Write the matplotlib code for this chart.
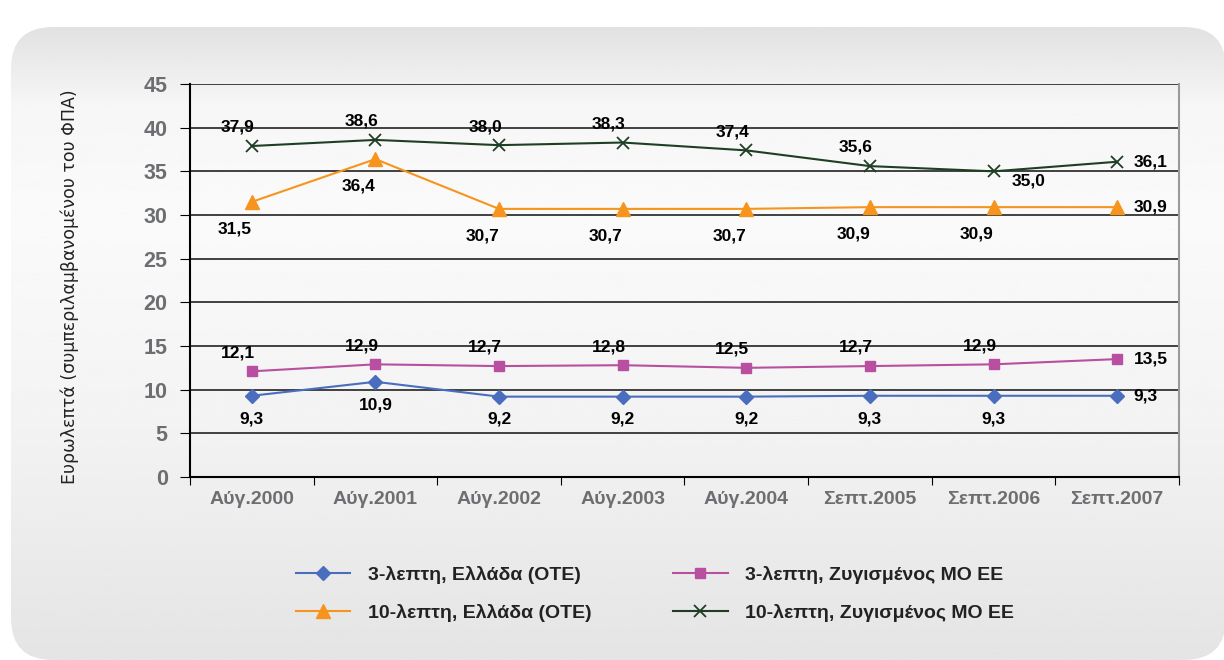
import numpy as np
import matplotlib.pyplot as plt
from matplotlib.patches import FancyBboxPatch

plt.rcParams['font.family'] = ['Liberation Sans', 'DejaVu Sans']

# Δεδομένα
periods = ['Αύγ.2000', 'Αύγ.2001', 'Αύγ.2002', 'Αύγ.2003', 'Αύγ.2004',
           'Σεπτ.2005', 'Σεπτ.2006', 'Σεπτ.2007']
gr_3min = [9.3, 10.9, 9.2, 9.2, 9.2, 9.3, 9.3, 9.3]
eu_3min = [12.1, 12.9, 12.7, 12.8, 12.5, 12.7, 12.9, 13.5]
gr_10min = [31.5, 36.4, 30.7, 30.7, 30.7, 30.9, 30.9, 30.9]
eu_10min = [37.9, 38.6, 38.0, 38.3, 37.4, 35.6, 35.0, 36.1]

fig = plt.figure(figsize=(12.24, 6.6), dpi=100)
fig.patch.set_facecolor('white')

# γκρι πλαίσιο φόντου με διαβάθμιση
bg = fig.add_axes([0, 0, 1, 1], zorder=-10)
bg.set_xlim(0, 1224)
bg.set_ylim(660, 0)
bg.axis('off')
panel = FancyBboxPatch((11, 27), 1215, 633, boxstyle='round,pad=0,rounding_size=42',
                       facecolor='none', edgecolor='none')
bg.add_patch(panel)
grad = np.interp(np.linspace(0, 1, 256), [0, 0.12, 0.3, 0.6, 1], [0.885, 0.965, 0.98, 0.955, 0.895])
img = bg.imshow(grad[:, None], cmap='gray', vmin=0, vmax=1, aspect='auto',
                extent=[11, 1226, 660, 27])
img.set_clip_path(panel)

ax = fig.add_axes([0.1552, 0.2773, 0.808, 0.5954])
ax.patch.set_alpha(0)
x = np.arange(len(periods))

ax.plot(x, gr_3min, color='#4a6ebd', marker='D', ms=7, lw=1.5, label='3-λεπτη, Ελλάδα (ΟΤΕ)')
ax.plot(x, gr_10min, color='#f7941d', marker='^', ms=10, lw=1.5, label='10-λεπτη, Ελλάδα (ΟΤΕ)')
ax.plot(x, eu_3min, color='#b84fa0', marker='s', ms=7, lw=1.5, label='3-λεπτη, Ζυγισμένος ΜΟ ΕΕ')
ax.plot(x, eu_10min, color='#1f3f25', marker='x', ms=9, mew=1.3, lw=1.5, label='10-λεπτη, Ζυγισμένος ΜΟ ΕΕ')

def fmt(v):
    return f'{v:.1f}'.replace('.', ',')

lab = dict(fontsize=12.5, fontweight='bold', color='black')
last = len(periods) - 1
for i in range(len(periods)):
    if i < last:
        ax.annotate(fmt(gr_3min[i]), (x[i], gr_3min[i]), xytext=(0, -11), textcoords='offset points',
                    ha='center', va='top', **lab)
        ax.annotate(fmt(eu_3min[i]), (x[i], eu_3min[i]), xytext=(-10, 8), textcoords='offset points',
                    ha='center', va='bottom', **lab)
        ax.annotate(fmt(gr_10min[i]), (x[i], gr_10min[i]), xytext=(-12, -14), textcoords='offset points',
                    ha='center', va='top', **lab)
        if i == 6:
            ax.annotate(fmt(eu_10min[i]), (x[i], eu_10min[i]), xytext=(25, -7), textcoords='offset points',
                        ha='center', va='center', **lab)
        else:
            ax.annotate(fmt(eu_10min[i]), (x[i], eu_10min[i]), xytext=(-10, 8), textcoords='offset points',
                        ha='center', va='bottom', **lab)
    else:
        for s in (gr_3min, eu_3min, gr_10min, eu_10min):
            ax.annotate(fmt(s[i]), (x[i], s[i]), xytext=(12, 0), textcoords='offset points',
                        ha='left', va='center', **lab)

ax.set_xlim(-0.5, len(periods) - 0.5)
ax.set_ylim(0, 45)
ax.set_yticks(range(0, 46, 5))
ax.set_xticks(np.arange(len(periods) + 1) - 0.5, minor=False)
ax.set_xticklabels([])
ax.set_xticks(x, minor=True)
ax.set_xticklabels(periods, minor=True)
ax.tick_params(axis='x', which='minor', length=0, pad=10, labelsize=14, labelcolor='#6d6e71')
ax.tick_params(axis='x', which='major', length=6, color='black', direction='out')
ax.tick_params(axis='y', length=7, pad=9, labelsize=15.5, labelcolor='#6d6e71', color='black')
for t in ax.get_yticklabels() + ax.get_xticklabels(minor=True):
    t.set_fontweight('bold')

ax.grid(axis='y', color='#222222', lw=1.2)
ax.set_axisbelow(True)
ax.spines['top'].set_visible(False)
ax.spines['right'].set_color('#9a9a9a')
ax.spines['right'].set_linewidth(1.5)
ax.spines['left'].set_color('black')
ax.spines['left'].set_linewidth(1.5)
ax.spines['bottom'].set_linewidth(1.5)

fig.text(70 / 1224, 1 - 287 / 660, 'Ευρωλεπτά (συμπεριλαμβανομένου του ΦΠΑ)', rotation=90,
         ha='center', va='center', fontsize=12.5, color='#222222', family='DejaVu Sans')

leg = fig.legend(loc='center', bbox_to_anchor=(655 / 1224, 1 - 594 / 660), ncol=2, frameon=False,
                 fontsize=14, columnspacing=4.2, handlelength=2.8, labelspacing=1.0, handletextpad=0.9)
for t in leg.get_texts():
    t.set_fontweight('bold')
    t.set_color('#222222')

fig.savefig('out.png', dpi=100)
